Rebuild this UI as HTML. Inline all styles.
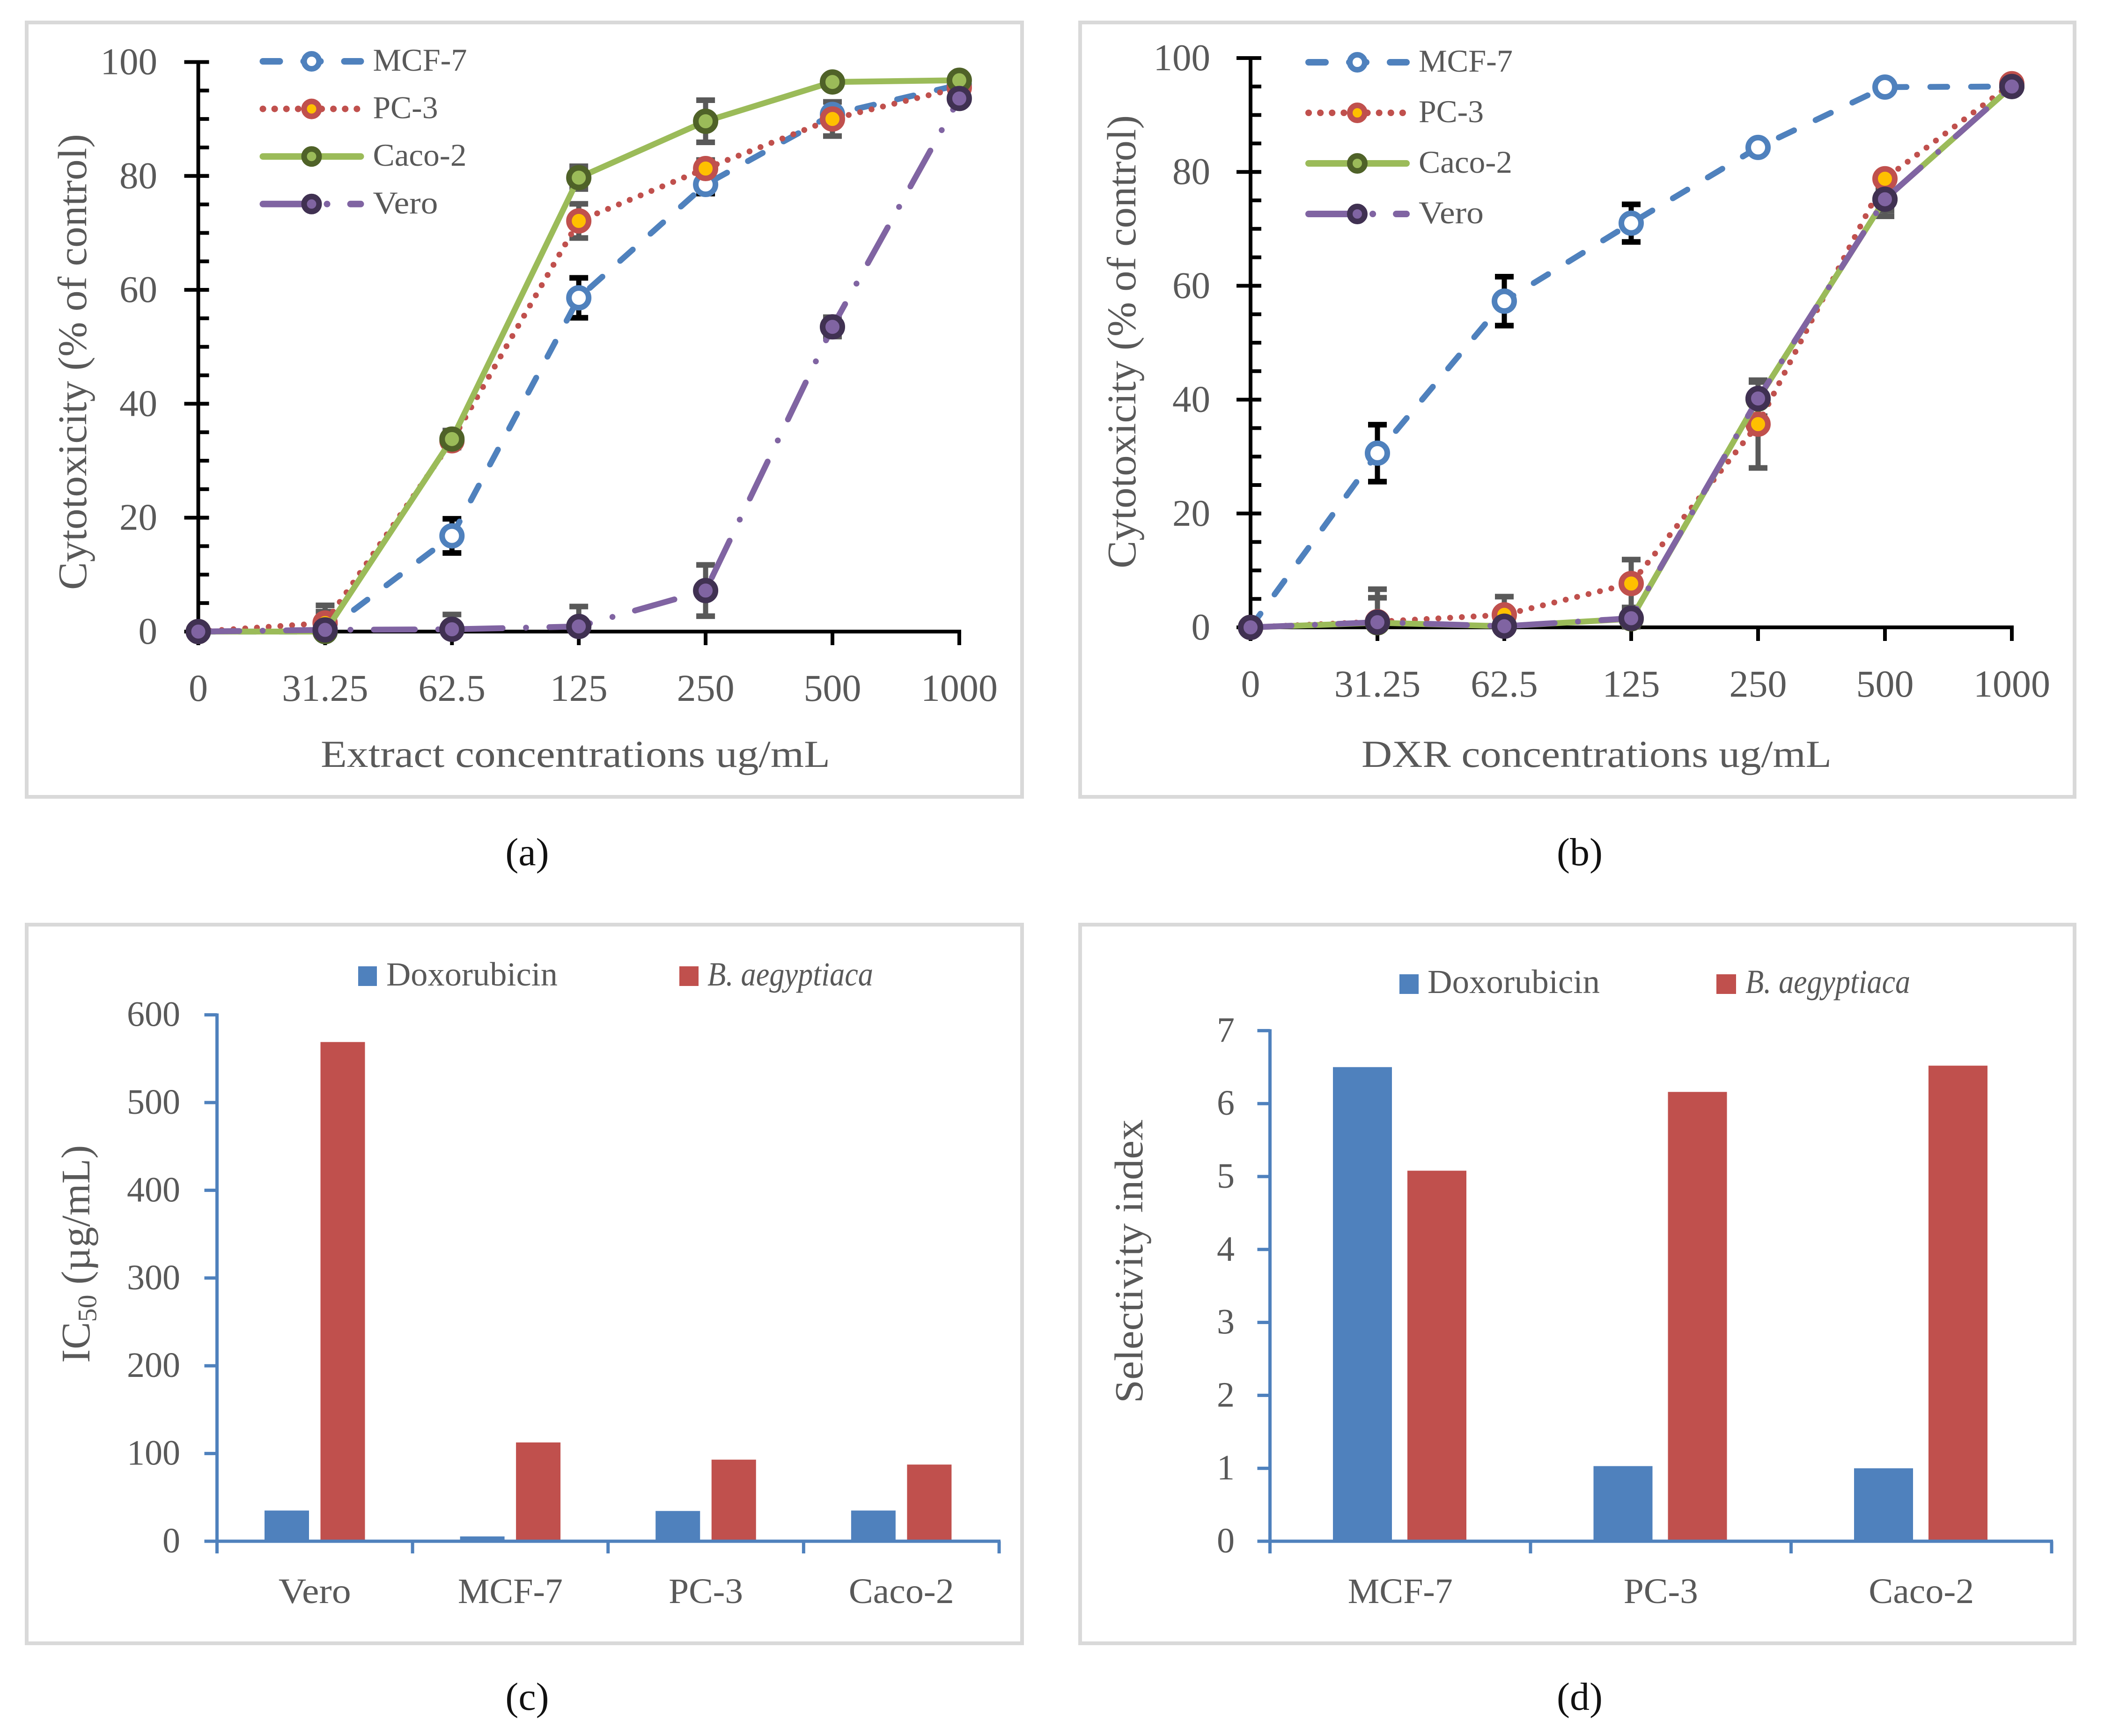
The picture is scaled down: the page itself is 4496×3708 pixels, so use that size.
<!DOCTYPE html>
<html lang="en">
<head>
<meta charset="utf-8">
<title>Cytotoxicity, IC50 and selectivity index charts</title>
<style>
html,body{margin:0;padding:0;background:#fff}
svg{display:block}
text{font-family:"Liberation Serif",serif;fill:#595959}
.cap{fill:#111}
</style>
</head>
<body>
<svg id="fig" xmlns="http://www.w3.org/2000/svg" width="4496" height="3708" viewBox="0 0 4496 3708">
<rect x="0" y="0" width="4496" height="3708" fill="#fff"/>

<g id="panel-a">
<rect x="57" y="48" width="2126" height="1654" fill="#fff" stroke="#d9d9d9" stroke-width="8"/>
<text x="184" y="773" transform="rotate(-90 184 773)" text-anchor="middle" font-size="87" textLength="974" lengthAdjust="spacingAndGlyphs">Cytotoxicity (% of control)</text>
<text x="1229" y="1638" text-anchor="middle" font-size="82" textLength="1088" lengthAdjust="spacingAndGlyphs">Extract concentrations ug/mL</text>
</g>
<text class="cap" x="1126" y="1848" text-anchor="middle" font-size="84">(a)</text>

<g id="panel-b">
<rect x="2307" y="48" width="2124" height="1654" fill="#fff" stroke="#d9d9d9" stroke-width="8"/>
<text x="2425" y="730" transform="rotate(-90 2425 730)" text-anchor="middle" font-size="87" textLength="968" lengthAdjust="spacingAndGlyphs">Cytotoxicity (% of control)</text>
<text x="3410" y="1638" text-anchor="middle" font-size="82" textLength="1004" lengthAdjust="spacingAndGlyphs">DXR concentrations ug/mL</text>
</g>
<text class="cap" x="3374" y="1848" text-anchor="middle" font-size="84">(b)</text>

<g id="panel-c">
<rect x="57" y="1975" width="2126" height="1535" fill="#fff" stroke="#d9d9d9" stroke-width="8"/>
<text transform="translate(191 2911) rotate(-90) scale(1.04 1.03)" font-size="84">IC<tspan dy="14" font-size="56">50</tspan><tspan dy="-14"> (µg/mL)</tspan></text>
<rect x="765" y="2064" width="40" height="42" fill="#4f81bd"/>
<text x="825" y="2105" font-size="72" textLength="366" lengthAdjust="spacingAndGlyphs">Doxorubicin</text>
<rect x="1451" y="2064" width="41" height="42" fill="#c0504d"/>
<text x="1511" y="2105" font-size="72" font-style="italic" textLength="354" lengthAdjust="spacingAndGlyphs">B. aegyptiaca</text>
</g>
<text class="cap" x="1126" y="3652" text-anchor="middle" font-size="84">(c)</text>

<g id="panel-d">
<rect x="2307" y="1975" width="2124" height="1535" fill="#fff" stroke="#d9d9d9" stroke-width="8"/>
<text x="2440" y="2694" transform="rotate(-90 2440 2694)" text-anchor="middle" font-size="86" textLength="606" lengthAdjust="spacingAndGlyphs">Selectivity index</text>
<rect x="2989" y="2081" width="41" height="42" fill="#4f81bd"/>
<text x="3049" y="2121" font-size="72" textLength="368" lengthAdjust="spacingAndGlyphs">Doxorubicin</text>
<rect x="3666" y="2081" width="42" height="42" fill="#c0504d"/>
<text x="3728" y="2121" font-size="72" font-style="italic" textLength="352" lengthAdjust="spacingAndGlyphs">B. aegyptiaca</text>
</g>
<text class="cap" x="3374" y="3652" text-anchor="middle" font-size="84">(d)</text>
</svg>

<script>
// ---- Chart data ----
const concentrationLabels = ["0", "31.25", "62.5", "125", "250", "500", "1000"];
const cytotoxicityTicks = [0, 20, 40, 60, 80, 100];
const seriesNames = ["MCF-7", "PC-3", "Caco-2", "Vero"];

const extractMcf7 = [0, 0, 16.8, 58.6, 78.5, 90.8, 96];
const extractMcf7Err = [0, 0.5, 3, 3.5, 1.6, 1, 0.5];
const extractPc3 = [0, 1.5, 33.5, 72.1, 81.3, 90, 95.5];
const extractPc3Err = [0, 3.1, 1, 3, 1.5, 3, 0.5];
const extractCaco2 = [0, 0, 33.8, 79.7, 89.6, 96.5, 96.8];
const extractCaco2Err = [0, 0.5, 1.5, 2, 3.7, 0.5, 0.5];
const extractVero = [0, 0.3, 0.4, 0.9, 7.2, 53.5, 93.6];
const extractVeroErr = [0, 3.2, 2.6, 3.5, 4.5, 1.7, 0.5];

const dxrMcf7 = [0, 30.6, 57.3, 71, 84.3, 94.9, 95];
const dxrMcf7Err = [0, 5, 4.3, 3.3, 0.5, 0.3, 0.3];
const dxrPc3 = [0, 1, 2.2, 7.7, 35.7, 78.8, 95.5];
const dxrPc3Err = [0, 5.7, 3.2, 4.2, 7.7, 1, 0.3];
const dxrCaco2 = [0, 0.8, 0.2, 1.5, 40.1, 75.2, 95];
const dxrCaco2Err = [0, 1, 0.5, 1, 3, 2, 0.3];
const dxrVero = [0, 0.9, 0.2, 1.6, 40.2, 75.2, 95];
const dxrVeroErr = [0, 4.3, 0.5, 1.5, 3.2, 3, 0.3];

const ic50Categories = ["Vero", "MCF-7", "PC-3", "Caco-2"];
const ic50Ticks = [0, 100, 200, 300, 400, 500, 600];
const ic50Doxorubicin = [35, 5.5, 34.5, 35];
const ic50Aegyptiaca = [569, 112.6, 93, 87.4];

const siCategories = ["MCF-7", "PC-3", "Caco-2"];
const siTicks = [0, 1, 2, 3, 4, 5, 6, 7];
const siDoxorubicin = [6.5, 1.03, 1.0];
const siAegyptiaca = [5.08, 6.16, 6.52];

// ---- Helpers ----
const SVG_NS = "http://www.w3.org/2000/svg";
function make(parent, tag, attrs, content) {
  const el = document.createElementNS(SVG_NS, tag);
  for (const k in attrs) el.setAttribute(k, attrs[k]);
  if (content !== undefined) el.textContent = content;
  parent.appendChild(el);
  return el;
}
function slug(s) {
  return String(s).toLowerCase().replace(/[^a-z0-9]+/g, "-");
}

const seriesStyles = [
  { color: "#4f81bd", fill: "#ffffff", ring: "#4f81bd", dash: "36 51", legendDash: "36 51", err: "#000000" },
  { color: "#c0504d", fill: "#ffc000", ring: "#c0504d", dash: "0.1 25", legendDash: "0.1 25", err: "#595959" },
  { color: "#9bbb59", fill: "#9bbb59", ring: "#4f6228", dash: "none", legendDash: "none", err: "#595959" },
  { color: "#8064a2", fill: "#8064a2", ring: "#403152", dash: "87.5 50 0.1 49.9", legendDash: "85 52 0.1 50", err: "#595959" }
];
const legendTextWidth = { "MCF-7": 201, "PC-3": 139, "Caco-2": 200, "Vero": 139 };
const categoryTextWidth = { "Vero": 155, "MCF-7": 224, "PC-3": 159, "Caco-2": 225 };

// ---- Line panels (a, b) ----
function drawLinePanel(p) {
  const root = document.getElementById(p.id);
  const xScale = i => p.x0 + p.dx * i;
  const yScale = v => p.y0 - p.unit * v;
  const xEnd = xScale(concentrationLabels.length - 1);

  // Minor ticks every 5 units
  for (let v = 0; v <= 100; v += 5) {
    const minor = make(root, "line", { x1: p.x0, x2: p.x0 + 23, y1: yScale(v), y2: yScale(v), stroke: "#000", "stroke-width": 8 });
    
    
  }
  // Major ticks and labels
  cytotoxicityTicks.forEach(v => {
    const tick = make(root, "line", { x1: p.x0 - 30, x2: p.x0 + 23, y1: yScale(v), y2: yScale(v), stroke: "#000", "stroke-width": 8 });
    
    
    const label = make(root, "text", { x: p.labelRight, y: yScale(v) + 26, "text-anchor": "end", "font-size": 81 }, String(v));
    
    
  });
  const yAxis = make(root, "line", { x1: p.x0, x2: p.x0, y1: yScale(100) - 4, y2: p.y0 + 4, stroke: "#000", "stroke-width": 8 });
  
  
  const xAxis = make(root, "line", { x1: p.x0 - 30, x2: xEnd + 4, y1: p.y0, y2: p.y0, stroke: "#000", "stroke-width": 8 });
  
  
  concentrationLabels.forEach((lab, i) => {
    const tick = make(root, "line", { x1: xScale(i), x2: xScale(i), y1: p.y0, y2: p.y0 + 29, stroke: "#000", "stroke-width": 8 });
    
    
    const label = make(root, "text", { x: xScale(i), y: p.y0 + 148, "text-anchor": "middle", "font-size": 82 }, lab);
    
    
  });

  // Error bars sit behind every line and marker; they stop at the axis
  p.series.forEach((values, s) => {
    const st = seriesStyles[s];
    const sname = p.name + '-' + slug(seriesNames[s]);
    const errs = p.errors[s];
    values.forEach((v, i) => {
      if (!errs[i]) return;
      const x = xScale(i), top = yScale(v + errs[i]), bot = yScale(Math.max(v - errs[i], 0));
      const stem = make(root, "line", { x1: x, x2: x, y1: top, y2: bot, stroke: st.err, "stroke-width": 11 });
      
      
      const capTop = make(root, "line", { x1: x - 20, x2: x + 20, y1: top, y2: top, stroke: st.err, "stroke-width": 12 });
      
      
      if (v - errs[i] > 0) {
        const capBot = make(root, "line", { x1: x - 20, x2: x + 20, y1: bot, y2: bot, stroke: st.err, "stroke-width": 12 });
        
        
      }
    });
  });

  // Series lines and markers in draw order
  p.series.forEach((values, s) => {
    const st = seriesStyles[s];
    const sname = p.name + '-' + slug(seriesNames[s]);
    const pts = values.map((v, i) => xScale(i) + "," + yScale(v)).join(" ");
    const line = make(root, "polyline", { points: pts, fill: "none", stroke: st.color, "stroke-width": 12.5, "stroke-linecap": "round", "stroke-linejoin": "round", "stroke-dasharray": st.dash });
    
    
    values.forEach((v, i) => {
      const m = make(root, "circle", { cx: xScale(i), cy: yScale(v), r: 21, fill: st.fill, stroke: st.ring, "stroke-width": 12 });
      
      
    });
  });

  // Legend
  seriesNames.forEach((nm, s) => {
    const st = seriesStyles[s];
    const ly = p.legendY + p.legendGap * s;
    const sname = p.name + '-legend-' + slug(nm);
    const l = make(root, "line", { x1: p.legendX - 104, x2: p.legendX + 105, y1: ly, y2: ly, stroke: st.color, "stroke-width": 14, "stroke-linecap": "round", "stroke-dasharray": st.legendDash });
    
    
    const c = make(root, "circle", { cx: p.legendX, cy: ly, r: 16, fill: st.fill, stroke: st.ring, "stroke-width": 12 });
    
    
    const t = make(root, "text", { x: p.legendX + 131, y: ly + 20, "font-size": 68, textLength: legendTextWidth[nm], lengthAdjust: "spacingAndGlyphs" }, nm);
    
    
  });
}

// ---- Bar panels (c, d) ----
function drawBarPanel(p) {
  const root = document.getElementById(p.id);
  const band = (p.xEnd - p.x0) / p.categories.length;
  const xBand = i => p.x0 + band * i;
  const yScale = v => p.y0 - p.unit * v;
  const barGroups = [
    { values: p.blue, color: "#4f81bd", key: "doxorubicin", offset: p.sideGap },
    { values: p.red, color: "#c0504d", key: "b-aegyptiaca", offset: p.sideGap + p.barW + p.barGap }
  ];
  barGroups.forEach(g => {
    g.values.forEach((v, i) => {
      const r = make(root, "rect", { x: xBand(i) + g.offset, y: yScale(v), width: p.barW, height: p.y0 - yScale(v), fill: g.color });
      
      
    });
  });
  const yAxis = make(root, "line", { x1: p.x0, x2: p.x0, y1: yScale(p.ticks[p.ticks.length - 1]) - 3, y2: p.y0 + 26, stroke: p.axisColor, "stroke-width": 7 });
  
  
  const xAxis = make(root, "line", { x1: p.x0 - 27, x2: p.xEnd + 3, y1: p.y0, y2: p.y0, stroke: p.axisColor, "stroke-width": 7 });
  
  
  p.ticks.forEach(v => {
    const tick = make(root, "line", { x1: p.x0 - 27, x2: p.x0, y1: yScale(v), y2: yScale(v), stroke: p.axisColor, "stroke-width": 7 });
    
    
    const label = make(root, "text", { x: p.labelRight, y: yScale(v) + 24, "text-anchor": "end", "font-size": 76 }, String(v));
    
    
  });
  for (let i = 0; i <= p.categories.length; i++) {
    const tick = make(root, "line", { x1: xBand(i), x2: xBand(i), y1: p.y0, y2: p.y0 + 26, stroke: p.axisColor, "stroke-width": 7 });
    
    
  }
  p.categories.forEach((c, i) => {
    const label = make(root, "text", { x: xBand(i) + band / 2, y: p.y0 + 132, "text-anchor": "middle", "font-size": 76, textLength: categoryTextWidth[c], lengthAdjust: "spacingAndGlyphs" }, c);
    
    
  });
}

drawLinePanel({
  id: "panel-a", name: "panel-a", x0: 423.5, dx: 270.9, y0: 1349, unit: 12.165, labelRight: 336,
  legendX: 665.5, legendY: 131, legendGap: 101.6,
  series: [extractMcf7, extractPc3, extractCaco2, extractVero],
  errors: [extractMcf7Err, extractPc3Err, extractCaco2Err, extractVeroErr]
});
drawLinePanel({
  id: "panel-b", name: "panel-b", x0: 2671, dx: 271, y0: 1340, unit: 12.16, labelRight: 2585,
  legendX: 2899, legendY: 133, legendGap: 108,
  series: [dxrMcf7, dxrPc3, dxrCaco2, dxrVero],
  errors: [dxrMcf7Err, dxrPc3Err, dxrCaco2Err, dxrVeroErr]
});
drawBarPanel({
  id: "panel-c", name: "panel-c", x0: 463.5, xEnd: 2134, y0: 3292, unit: 1.874, labelRight: 385,
  axisColor: "#4f81bd", categories: ic50Categories, ticks: ic50Ticks,
  blue: ic50Doxorubicin, red: ic50Aegyptiaca, barW: 95, barGap: 24.5, sideGap: 101.5
});
drawBarPanel({
  id: "panel-d", name: "panel-d", x0: 2712.5, xEnd: 4382, y0: 3292, unit: 155.8, labelRight: 2637,
  axisColor: "#4f81bd", categories: siCategories, ticks: siTicks,
  blue: siDoxorubicin, red: siAegyptiaca, barW: 126, barGap: 33, sideGap: 134.5
});
</script>
</body>
</html>
